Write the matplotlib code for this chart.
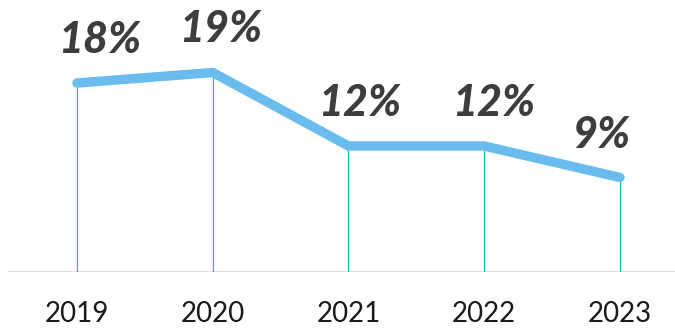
import matplotlib
matplotlib.use("Agg")
import matplotlib.pyplot as plt

years = ["2019", "2020", "2021", "2022", "2023"]
values = [18, 19, 12, 12, 9]
labels = ["18%", "19%", "12%", "12%", "9%"]

W, H, DPI = 675, 329, 100
fig = plt.figure(figsize=(W / DPI, H / DPI), dpi=DPI)
ax = fig.add_axes([8 / W, 1 - 272 / H, (675 - 8) / W, 272 / H])

x = list(range(len(years)))
ax.set_xlim(-0.508, 4.405)
ax.set_ylim(0, 272 / 10.5)

for xi, v in zip(x, values):
    ax.vlines(xi, 0, v, color="#1fbcbc", lw=0.9, zorder=1)

ax.plot(x, values, color="#6bbcee", lw=6.8, solid_capstyle="round",
        solid_joinstyle="round", zorder=2)

label_dx = [23, 8, 11, 9, -19]
for xi, v, lab, dx in zip(x, values, labels, label_dx):
    ax.annotate(lab, (xi, v), xytext=(dx * 72 / DPI, 43 * 72 / DPI),
                textcoords="offset points", ha="center", va="center",
                fontsize=31, fontweight="black", fontstyle="italic",
                family="Lato", color="#3d3d3d")

ax.axhline(0, color="#dddddd", lw=1.5, zorder=0)

for s in ax.spines.values():
    s.set_visible(False)
ax.set_yticks([])
ax.set_xticks(x)
ax.set_xticklabels(years, fontsize=20, family="Lato", fontweight="normal",
                   color="#1a1a1a")
ax.tick_params(axis="x", length=0, pad=21)

fig.savefig("out.png", dpi=DPI)
